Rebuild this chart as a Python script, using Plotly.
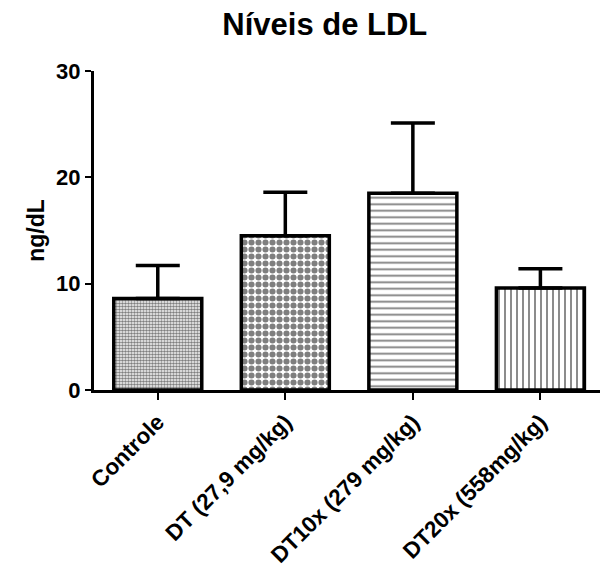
import plotly.graph_objects as go

categories = ["Controle", "DT (27,9 mg/kg)", "DT10x (279 mg/kg)", "DT20x (558mg/kg)"]
means = [8.6, 14.5, 18.5, 9.6]
errors_up = [3.1, 4.1, 6.6, 1.8]
patterns = [".", ".", "-", "|"]
pattern_sizes = [3, 7, 6.5, 6]
pattern_solidity = [0.6, 0.6, 0.28, 0.3]
y_ticks = [0, 10, 20, 30]

font_family = "Liberation Sans, Arial, sans-serif"

fig = go.Figure()
for i, cat in enumerate(categories):
    fig.add_trace(go.Bar(
        x=[cat], y=[means[i]],
        width=0.69,
        marker=dict(
            color="white",
            line=dict(color="black", width=3.5),
            pattern=dict(shape=patterns[i], size=pattern_sizes[i],
                         solidity=pattern_solidity[i],
                         fgcolor="black", bgcolor="white", fillmode="overlay"),
        ),
        error_y=dict(type="data", array=[errors_up[i]], arrayminus=[0],
                     symmetric=False, color="black", thickness=3.5, width=22),
        showlegend=False,
    ))

fig.update_layout(
    width=600, height=566,
    margin=dict(l=86, r=0, t=63, b=184, autoexpand=False),
    paper_bgcolor="white", plot_bgcolor="white",
    title=dict(text="Níveis de LDL", x=0.528, xanchor="center", y=0.972, yanchor="middle",
               font=dict(family=font_family, size=31, color="black", weight="bold")),
    font=dict(family=font_family, color="black"),
)
fig.update_xaxes(
    categoryorder="array", categoryarray=categories,
    range=[-0.5, 3.53],
    automargin=False,
    showline=True, linecolor="black", linewidth=3,
    ticks="outside", ticklen=7, tickwidth=2, tickcolor="black",
    tickangle=-45,
    tickfont=dict(family=font_family, size=22.5, color="black", weight="bold"),
    showgrid=False, zeroline=False,
)
fig.update_yaxes(
    range=[0, 30], tickvals=y_ticks,
    automargin=False,
    showline=True, linecolor="black", linewidth=3,
    ticks="outside", ticklen=6, tickwidth=2, tickcolor="black",
    tickfont=dict(family=font_family, size=22, color="black", weight="bold"),
    title=dict(text="ng/dL", standoff=6,
               font=dict(family=font_family, size=23, color="black", weight="bold")),
    showgrid=False, zeroline=False,
)

fig.write_html("out.html")
